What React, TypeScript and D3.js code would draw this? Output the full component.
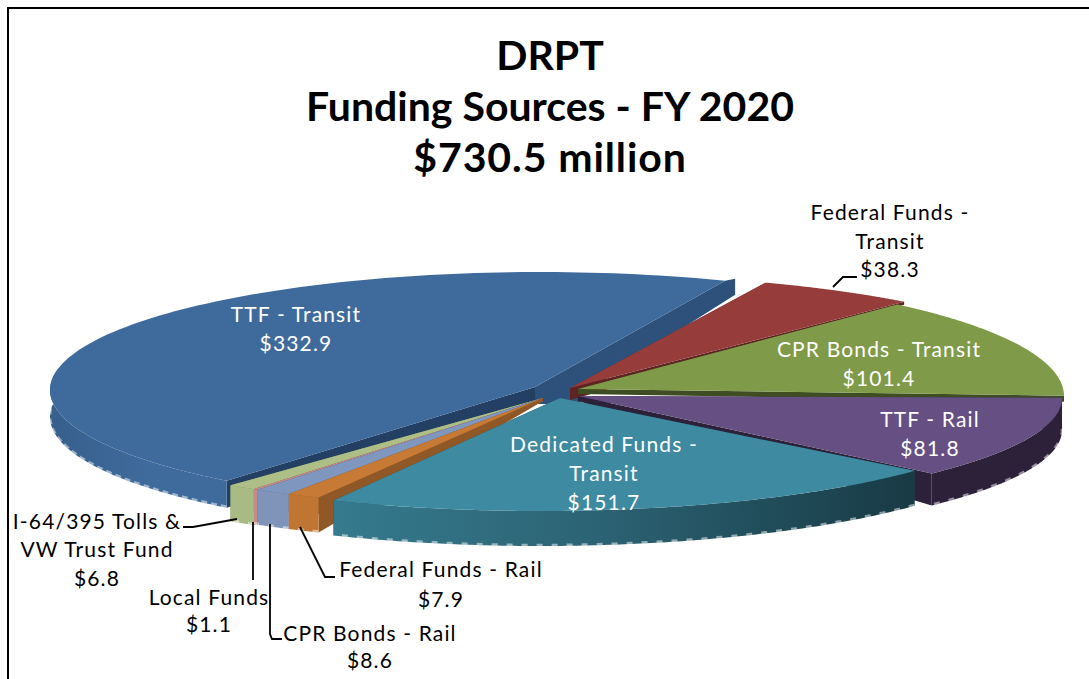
import React from "react";
import * as d3 from "d3";

const categories = ["Federal Funds - Transit", "CPR Bonds - Transit", "TTF - Rail", "Dedicated Funds - Transit", "Federal Funds - Rail", "CPR Bonds - Rail", "Local Funds", "I-64/395 Tolls & VW Trust Fund", "TTF - Transit"];
const values = [38.3, 101.4, 81.8, 151.7, 7.9, 8.6, 1.1, 6.8, 332.9];
const titleLines = ["DRPT", "Funding Sources - FY 2020", "$730.5 million"];

const topColors = ["#963D3B", "#7F9A48", "#664F82", "#3D8AA1", "#C77A35", "#7F96BE", "#C78A88", "#ADBF86", "#3F6B9C"];
const cutStartColors = ["#6B2A28", "#3F4E22", "#2C2139", "#1F4856", "#8F5826", "#5F7096", "#8F5F5E", "#7E8C60", "#233F64"];
const cutEndColors = ["#5E2322", "#3F4E22", "#2C2139", "#1F4856", "#8F5826", "#5F7096", "#8F5F5E", "#7E8C60", "#2E517B"];
const rimColors = ["#5E2322", "#3F4E22", "#2C2139", "url(#tealWall)", "#C07632", "#7F94B8", "#C78A88", "#A9BB84", "url(#blueWall)"];

// geometry of each exploded slice in perspective: [cx, cy, rx, ry, apexX, apexY, rimDepth, apexDepth, startTweakDeg, endTweakDeg, capDx]
const geo: number[][] = [
  [590, 390, 490, 115, 570, 388, 3, 12, 0, 0, 0],
  [572, 396, 492, 122, 578, 389, 6, 5, 1.5, 0, 0],
  [542, 398, 520, 114, 578, 396, 32, 5, 0, 1.3, 0],
  [540, 398, 490, 113, 560, 398, 35, 3, 0, 0, 0],
  [525, 395, 490, 113, 543, 398, 35, 3, 0, 0, 0],
  [525, 395, 490, 113, 543, 398, 35, 3, 0, 0, 0],
  [525, 395, 490, 113, 543, 398, 35, 3, 0, 0, 0],
  [525, 395, 490, 113, 543, 398, 36, 3, 0, 0, 0],
  [540, 390, 490, 118, 535, 387, 27, 17, 2.8, 1.2, 10],
];
const drawOrder = [8, 0, 1, 2, 7, 6, 5, 4, 3];

const labels: { lines: string[]; x: number; y: number[]; fill: string }[] = [
  { lines: ["Federal Funds -", "Transit", "$38.3"], x: 890, y: [220, 249, 277], fill: "#000" },
  { lines: ["TTF - Transit", "$332.9"], x: 296, y: [322, 351], fill: "#fff" },
  { lines: ["CPR Bonds - Transit", "$101.4"], x: 879, y: [357, 386], fill: "#fff" },
  { lines: ["TTF - Rail", "$81.8"], x: 930, y: [427, 456], fill: "#fff" },
  { lines: ["Dedicated Funds -", "Transit", "$151.7"], x: 604, y: [452, 481, 510], fill: "#fff" },
  { lines: ["I-64/395 Tolls &", "VW Trust Fund", "$6.8"], x: 97, y: [529, 557, 586], fill: "#000" },
  { lines: ["Local Funds", "$1.1"], x: 209, y: [605, 632], fill: "#000" },
  { lines: ["CPR Bonds - Rail", "$8.6"], x: 370, y: [641, 668], fill: "#000" },
  { lines: ["Federal Funds - Rail", "$7.9"], x: 441, y: [577, 607], fill: "#000" },
];

const leaders: [number, number][][] = [
  [[833, 287], [843, 277], [857, 277]],
  [[183, 527], [193, 527], [237, 519]],
  [[253, 522], [253, 580]],
  [[270, 524], [270, 634], [272, 639], [282, 639]],
  [[300, 527], [325, 577], [335, 577]],
];

const rad = Math.PI / 180;
const line = d3.line<[number, number]>();

export default function App() {
  const arcs = d3.pie<number>().sort(null).startAngle(21 * rad).endAngle(381 * rad)(values);
  return (
    <svg width={1089} height={679} style={{ position: "absolute", left: 0, top: 0, background: "#fff" }}
      fontFamily="Lato, Carlito, sans-serif">
      <defs>
        <linearGradient id="tealWall" gradientUnits="userSpaceOnUse" x1={333} x2={915} y1={0} y2={0}>
          <stop offset="0" stopColor="#357A8E" />
          <stop offset="0.45" stopColor="#2C6374" />
          <stop offset="1" stopColor="#183A45" />
        </linearGradient>
        <linearGradient id="blueWall" gradientUnits="userSpaceOnUse" x1={50} x2={150} y1={0} y2={0}>
          <stop offset="0" stopColor="#375F8C" />
          <stop offset="1" stopColor="#3F6B9C" />
        </linearGradient>
      </defs>
      <path d="M8 679V8H1089" fill="none" stroke="#000" strokeWidth={2} />
      {drawOrder.map((i) => {
        const [cx, cy, rx, ry, ax, ay, d, d0, t0, t1, cap] = geo[i];
        const a0 = arcs[i].startAngle + t0 * rad;
        const a1 = arcs[i].endAngle + t1 * rad;
        const pts: [number, number][] = d3.range(0, 121).map((k) => {
          const a = a0 + ((a1 - a0) * k) / 120;
          return [cx + rx * Math.sin(a), cy - ry * Math.cos(a)];
        });
        const shift = (p: [number, number], dy: number, dx = 0): [number, number] => [p[0] + dx, p[1] + dy];
        const apex: [number, number] = [ax, ay];
        const first = pts[0];
        const last = pts[pts.length - 1];
        // the rim only shows on the near half of the pie
        const near = pts.filter((_, k) => a0 + ((a1 - a0) * k) / 120 < 282 * rad);
        const top = line([apex, ...pts]) + "Z";
        const cutStart = line([apex, first, shift(first, d), shift(apex, d0)]) + "Z";
        const cutEnd = line(cap
          ? [apex, last, shift(last, -2, cap), shift(last, 14, cap), shift(apex, 6, cap * 4.5), shift(apex, d0, cap * 4.5), shift(apex, d0)]
          : [apex, last, shift(last, d), shift(apex, d0)]) + "Z";
        const rim = line([...near, ...near.slice().reverse().map((p) => shift(p, d))]) + "Z";
        const bottom = line(near.map((p) => shift(p, d - 1)));
        const frontVisible = i >= 2;
        return (
          <g key={categories[i]}>
            <path d={cutStart} fill={cutStartColors[i]} />
            <path d={cutEnd} fill={cutEndColors[i]} />
            {frontVisible && <path d={rim} fill={rimColors[i]} />}
            {frontVisible && <path d={bottom ?? ""} fill="none" stroke="#fff" strokeOpacity={0.5} strokeWidth={2.5} strokeDasharray={i === 8 ? "6 4" : "6 9"} />}
            <path d={top} fill={topColors[i]} />
          </g>
        );
      })}
      {leaders.map((l, i) => (
        <path key={i} d={line(l) ?? ""} fill="none" stroke="#000" strokeWidth={1.8} />
      ))}
      {titleLines.map((t, i) => (
        <text key={t} x={550} y={[70, 121, 172][i]} textAnchor="middle" fontSize={41} fontWeight={700} letterSpacing={i === 2 ? 0.9 : 0} fill="#000">{t}</text>
      ))}
      {labels.map((l) =>
        l.lines.map((t, i) => (
          <text key={l.x + t} x={l.x} y={l.y[i]} textAnchor="middle" fontSize={21} letterSpacing={1.15} fill={l.fill}>{t}</text>
        ))
      )}
    </svg>
  );
}
